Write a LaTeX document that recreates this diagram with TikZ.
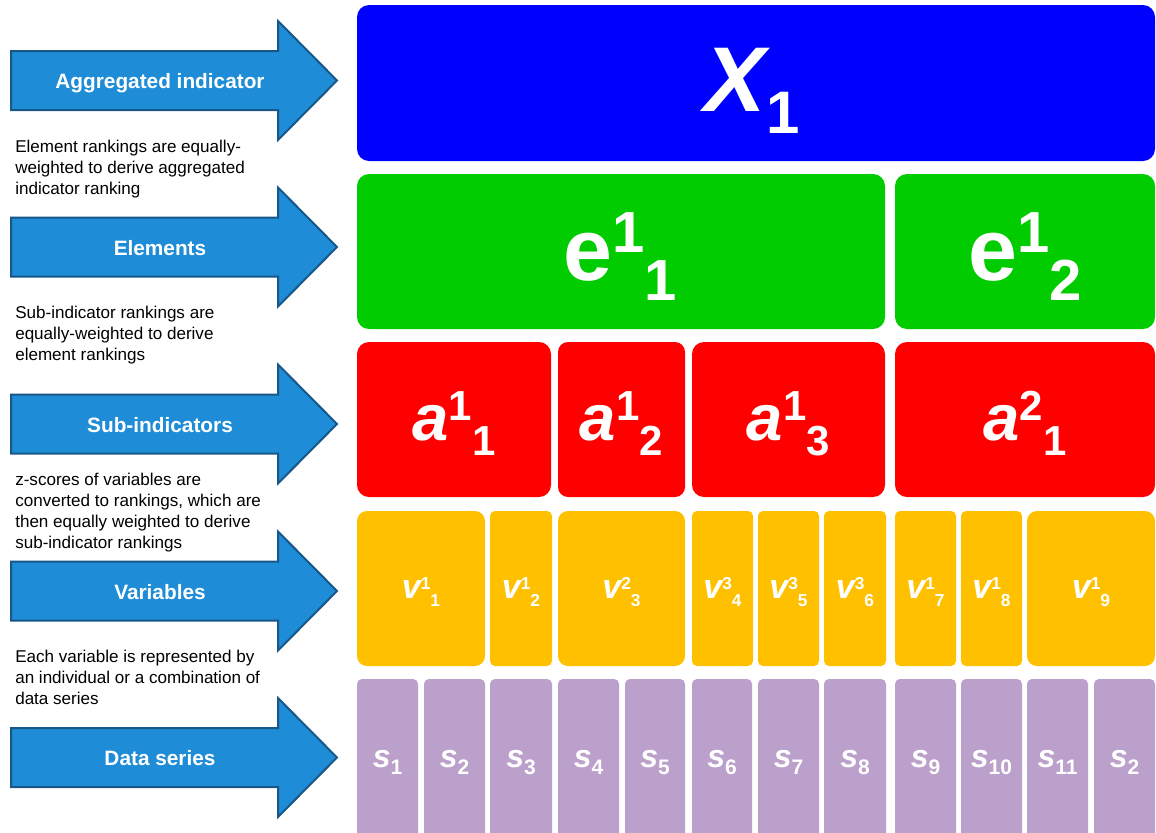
\documentclass[tikz,border=0pt]{standalone}
\usepackage{fontspec}
\setmainfont{Liberation Sans}
\usetikzlibrary{fit}

\definecolor{topblue}{RGB}{0,0,255}
\definecolor{elemgreen}{RGB}{0,204,0}
\definecolor{subred}{RGB}{255,0,0}
\definecolor{varyellow}{RGB}{255,192,0}
\definecolor{serpurple}{RGB}{186,160,202}
\definecolor{arrowfill}{RGB}{30,140,214}
\definecolor{arrowedge}{RGB}{24,88,136}

% symbol with a raised and a lowered index set one after the other
% #1 letter size, #2 letter, #3 index size, #4 raise, #5 upper index, #6 drop, #7 lower index
\newcommand\idxlabel[7]{{\fontsize{#1}{#1}\selectfont\bfseries #2}{\fontsize{#3}{#3}\selectfont\bfseries\upshape\raisebox{#4}{#5}\raisebox{-#6}{#7}}}

% block arrow pointing right, centred on height #2
\newcommand\flowarrow[3]{%
  \draw[bigarrow] (11,#2-29.5) -- (278,#2-29.5) -- (278,#2-59.5) -- (337,#2)
    -- (278,#2+59.5) -- (278,#2+29.5) -- (11,#2+29.5) -- cycle;
  \node[arrowlbl] (#1) at (160,#2+8) {#3};}

\tikzset{
  blk/.style={inner sep=0pt, outer sep=0pt, draw=none, rounded corners=#1},
  blk/.default=9pt,
  lbl/.style={text=white, anchor=base, inner sep=0pt},
  desc/.style={anchor=base west, inner sep=0pt, text=black,
    font=\fontsize{12.8}{15.75}\selectfont},
  arrowlbl/.style={anchor=base, inner sep=0pt, text=white,
    font=\fontsize{15.6}{18}\selectfont\bfseries},
  bigarrow/.style={fill=arrowfill, draw=arrowedge, line width=1.5pt, line join=miter},
}

\begin{document}
\begin{tikzpicture}[x=0.75pt, y=-0.75pt]
\clip (0,0) rectangle (1156,832);
\fill[white] (0,0) rectangle (1156,832);

% ---- left column: levels and how they are combined ----
\flowarrow{arAgg}{80.5}{Aggregated indicator}
\flowarrow{arEl}{247}{Elements}
\flowarrow{arSub}{424}{Sub-indicators}
\flowarrow{arVar}{591}{Variables}
\flowarrow{arData}{757.5}{Data series}

\node[desc] (dEl) at (15,152) {\begin{tabular}[t]{@{}l@{}}Element rankings are equally-\\weighted to derive aggregated\\indicator ranking\end{tabular}};
\node[desc] (dSub) at (15,318.5) {\begin{tabular}[t]{@{}l@{}}Sub-indicator rankings are\\equally-weighted to derive\\element rankings\end{tabular}};
\node[desc] (dVar) at (15,485) {\begin{tabular}[t]{@{}l@{}}z-scores of variables are\\converted to rankings, which are\\then equally weighted to derive\\sub-indicator rankings\end{tabular}};
\node[desc] (dData) at (15,662) {\begin{tabular}[t]{@{}l@{}}Each variable is represented by\\an individual or a combination of\\data series\end{tabular}};

% ---- aggregated indicator ----
\node[blk, fill=topblue, fit={(357,5) (1155,161)}] (X) {};
\node[lbl] (Xt) at (752,111) {\idxlabel{69pt}{\itshape X}{45pt}{0pt}{}{16.5pt}{1}};

% ---- elements ----
\node[blk, fill=elemgreen, fit={(357,174) (885,329)}] (e11) {};
\node[blk, fill=elemgreen, fit={(895,174) (1155,329)}] (e12) {};
\node[lbl] (e11t) at (620,280) {\idxlabel{66pt}{e}{43.5pt}{21pt}{1}{15pt}{1}};
\node[lbl] (e12t) at (1025,280) {\idxlabel{66pt}{e}{43.5pt}{21pt}{1}{15pt}{2}};

% ---- sub-indicators ----
\foreach \n/\l/\r/\rad/\p/\k in {1/357/551/9pt/1/1, 2/558/685/7.5pt/1/2,
                                 3/692/885/9pt/1/3, 4/895/1155/9pt/2/1} {
  \node[blk=\rad, fill=subred, fit={(\l,342) (\r,497)}] (a\n) {};
  \node[lbl] (a\n-t) at ({(\l+\r)/2},440)
    {\idxlabel{49pt}{\itshape a}{31.5pt}{15pt}{\p}{11.25pt}{\k}};
}

% ---- variables ----
\foreach \n/\l/\r/\rad/\p in {1/357/485/7.5pt/1, 2/490/552/3.75pt/1, 3/558/685/7.5pt/2,
                              4/692/753/3.75pt/3, 5/758/819/3.75pt/3, 6/824/886/3.75pt/3,
                              7/895/956/3.75pt/1, 8/961/1022/3.75pt/1, 9/1027/1155/7.5pt/1} {
  \node[blk=\rad, fill=varyellow, fit={(\l,511) (\r,666)}] (v\n) {};
  \node[lbl] (v\n-t) at ({(\l+\r)/2},598)
    {\idxlabel{25.5pt}{\itshape v}{13pt}{6.75pt}{\p}{6pt}{\n}};
}

% ---- data series ----
\foreach \n/\l/\r/\k in {1/357/418/1, 2/424/485/2, 3/490/552/3, 4/558/619/4,
                         5/625/685/5, 6/692/752/6, 7/758/819/7, 8/824/886/8,
                         9/895/956/9, 10/961/1022/10, 11/1027/1088/11, 12/1094/1155/2} {
  \node[blk=3.75pt, fill=serpurple, fit={(\l,679) (\r,850)}] (s\n) {};
  \node[lbl] (s\n-t) at ({(\l+\r)/2},767)
    {\idxlabel{24pt}{\itshape s}{15.75pt}{0pt}{}{5.25pt}{\k}};
}
\end{tikzpicture}
\end{document}
